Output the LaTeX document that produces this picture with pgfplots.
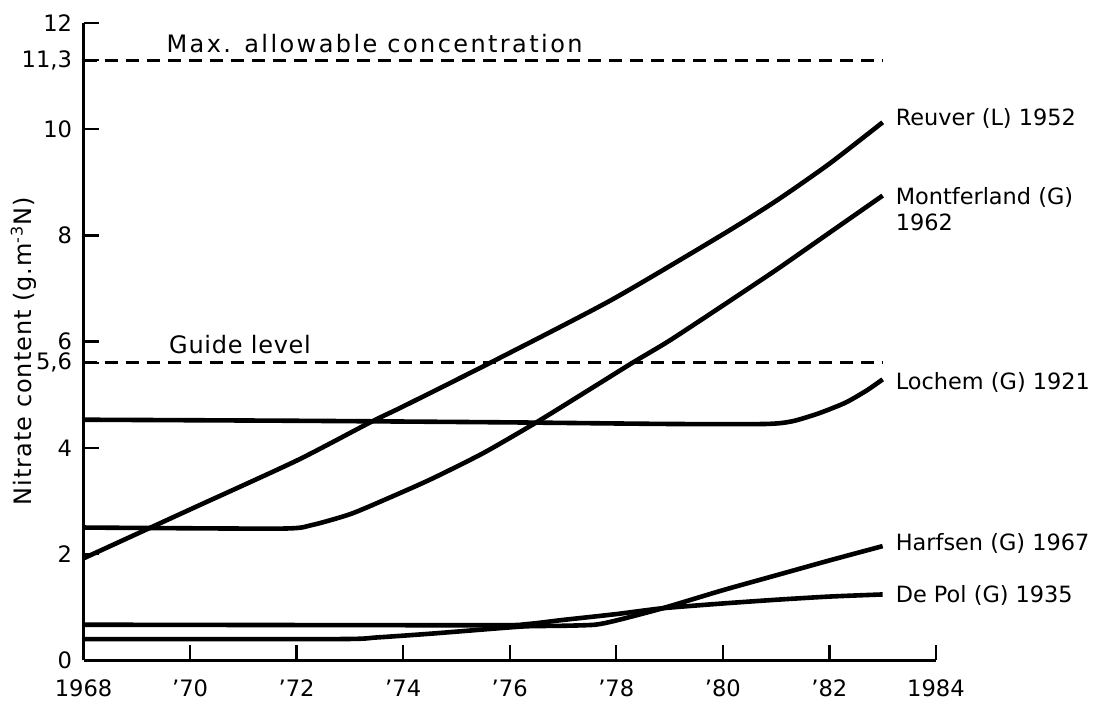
\documentclass[border=0pt]{standalone}
\usepackage{fontspec}
\setmainfont{DejaVu Sans}
\usepackage{pgfplots}
\pgfplotsset{compat=1.18}
\begin{document}
\fontsize{11.2}{13.5}\selectfont
\begin{tikzpicture}
\begin{axis}[
  scale only axis, width=426pt, height=318.5pt,
  xmin=1968, xmax=1984, ymin=0, ymax=12,
  axis lines=left, axis line style={-, line width=1.4pt},
  tick align=inside, major tick length=7.5pt,
  tick style={line width=1.2pt, black},
  xtick={1968,1970,...,1984},
  xticklabels={1968,'70,'72,'74,'76,'78,'80,'82,1984},
  ytick={0,2,4,5.6,6,8,10,11.3,12},
  yticklabels={0,2,4,{5,6},6,8,10,{11,3},12},
  ticklabel style={font=\fontsize{11.3}{13}\selectfont},
  xticklabel style={yshift=-6pt},
  yticklabel style={xshift=-1.8pt},
  clip=false,
  every axis plot/.append style={line width=2.3pt, black},
]
% Reuver (L) 1952
\addplot[smooth, tension=0.4] coordinates {
 (1968,1.92) (1970,2.84) (1972,3.76) (1973.38,4.48) (1974,4.78) (1975.63,5.6)
 (1977.9,6.78) (1980,8.02) (1981,8.65) (1982,9.35) (1983,10.13)};
% Montferland (G) 1962
\addplot[smooth, tension=0.4] coordinates {
 (1968,2.5) (1971.7,2.48) (1972.3,2.55) (1973,2.75) (1973.6,3.0) (1974.5,3.4)
 (1975.5,3.9) (1976.5,4.48) (1977.5,5.1) (1978.3,5.6) (1979,6.02) (1980,6.68)
 (1981,7.35) (1982,8.05) (1983,8.75)};
% Lochem (G) 1921
\addplot[smooth, tension=0.4] coordinates {
 (1968,4.53) (1972,4.51) (1976,4.48) (1979,4.45) (1980.8,4.45) (1981.3,4.5)
 (1981.8,4.65) (1982.3,4.85) (1982.7,5.08) (1983,5.29)};
% Harfsen (G) 1967
\addplot[smooth, tension=0.4] coordinates {
 (1968,0.40) (1972.8,0.40) (1973.5,0.43) (1974.5,0.5) (1975.5,0.58) (1976.3,0.64)
 (1977.0,0.65) (1977.6,0.67) (1978.0,0.75) (1978.87,0.98) (1980,1.32) (1981,1.6)
 (1982,1.88) (1983,2.15)};
% De Pol (G) 1935
\addplot[smooth, tension=0.4] coordinates {
 (1968,0.67) (1975.5,0.66) (1976.3,0.68) (1977,0.76) (1978,0.87) (1978.87,0.98)
 (1980,1.07) (1981,1.14) (1982,1.2) (1983,1.24)};
% reference levels
\addplot[line width=1.5pt, dash pattern=on 6.5pt off 4pt] coordinates {(1968,11.3) (1983,11.3)};
\addplot[line width=1.5pt, dash pattern=on 6.5pt off 4pt] coordinates {(1968,5.6) (1983,5.6)};
% labels
\node[anchor=base west, inner sep=0pt] at (axis cs:1969.55,11.45)
  {\fontsize{12}{14}\selectfont\addfontfeature{LetterSpace=10}Max. allowable concentration};
\node[anchor=base west, inner sep=0pt] at (axis cs:1969.6,5.78)
  {\fontsize{12}{14}\selectfont\addfontfeature{LetterSpace=3}Guide level};
\node[anchor=west, inner sep=0pt] at (axis cs:1983.24,10.21) {Reuver (L) 1952};
\node[anchor=west, inner sep=0pt, align=left] at (axis cs:1983.24,8.5)
  {Montferland (G)\\[-0.5pt]1962};
\node[anchor=west, inner sep=0pt] at (axis cs:1983.24,5.24) {Lochem (G) 1921};
\node[anchor=west, inner sep=0pt] at (axis cs:1983.24,2.2) {Harfsen (G) 1967};
\node[anchor=west, inner sep=0pt] at (axis cs:1983.24,1.22) {De Pol (G) 1935};
\node[rotate=90, inner sep=0pt] at ([xshift=-30pt]rel axis cs:0,0.485)
  {\fontsize{12}{14}\selectfont\addfontfeature{LetterSpace=4}Nitrate content (g.m\textsuperscript{-3}N)};
\end{axis}
\pgfresetboundingbox
\path ([shift={(-41.75pt,-21pt)}]current axis.south west) rectangle
      ([shift={(81.5pt,11.5pt)}]current axis.north east);
\end{tikzpicture}
\end{document}
